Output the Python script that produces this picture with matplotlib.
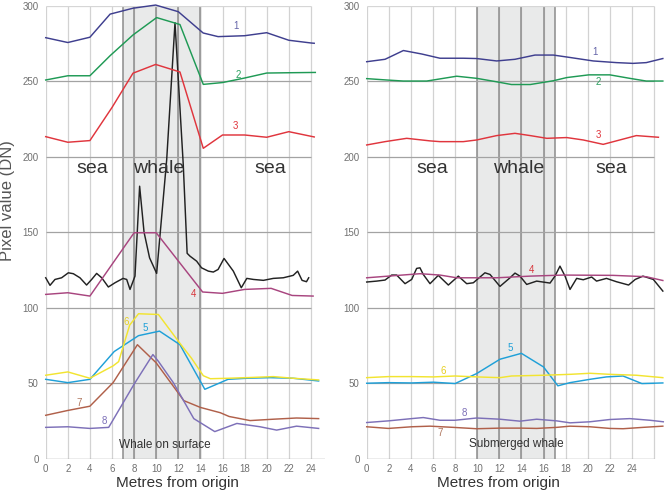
import matplotlib
matplotlib.use("Agg")
import matplotlib.pyplot as plt

plt.rcParams['font.family'] = ['Liberation Sans', 'DejaVu Sans']

# ---------------- data: left panel (whale on surface) ----------------
L1_x = [0, 2, 4, 5.83, 7.9, 9.95, 12.0, 14.25, 15.6, 18, 20, 22, 24, 24.3]
L1_y = [278.7, 275.5, 279, 294.3, 298.2, 300.3, 295.9, 281.8, 279.4, 280, 282, 277, 275.2, 275]
L2_x = [0, 2, 4, 5.83, 7.9, 10.04, 12.15, 14.26, 16, 18, 20, 22, 24.4]
L2_y = [250.7, 253.5, 253.5, 266.8, 280.5, 292, 287.4, 247.8, 249, 252, 255.3, 255.5, 255.7]
L3_x = [0, 2, 4, 6, 7.9, 9.95, 12.15, 14.26, 16, 18, 20, 22, 24.3]
L3_y = [213.2, 209.5, 210.6, 232.5, 255.2, 261, 256, 205.5, 214.3, 214.3, 212.8, 216.5, 213]
L4_x = [0, 2, 4, 8, 10, 14.2, 16, 18, 20.4, 22.3, 24.2]
L4_y = [108.8, 109.9, 107.7, 149.6, 149.6, 110.4, 109.5, 112.1, 112.8, 108.1, 107.7]
L5_x = [0, 2, 4, 6.2, 8.4, 10.3, 12.15, 14.4, 15.3, 16.5, 18.2, 20.3, 22.4, 24.7]
L5_y = [52.6, 50.4, 52.6, 71, 81.5, 84.5, 75.5, 46, 48.8, 52.6, 53.3, 53.7, 53.3, 51.5]
L6_x = [0, 2, 4, 6.1, 6.6, 7.6, 8.4, 10.2, 12.15, 13.2, 14.26, 14.9, 16.5, 18.5, 20.6, 22.4, 24.7]
L6_y = [55.3, 57.5, 53.3, 61.5, 64.3, 88.5, 96, 95.5, 76.4, 66.5, 55, 53, 53.3, 53.8, 54.4, 53.3, 52.2]
L7_x = [0, 2, 4, 6.1, 8.3, 10, 12.5, 14, 15.8, 16.6, 18.5, 20.6, 22.7, 24.7]
L7_y = [28.8, 32, 34.8, 50.4, 75.5, 63.5, 38.5, 34, 30.5, 28, 25.3, 26.2, 27, 26.6]
L8_x = [0, 2, 4, 5.7, 8.0, 9.7, 10.2, 11.55, 13.4, 15.3, 17.3, 19.4, 20.9, 22.7, 24.7]
L8_y = [20.8, 21.2, 20.1, 20.8, 49.4, 69, 64.5, 50.4, 26.6, 18, 23.4, 21.2, 19, 21.6, 20.1]
LB_x = [0, 0.39, 0.84, 1.44, 2.05, 2.5, 3.1, 3.7, 4.16, 4.61, 5.07, 5.67, 6.27, 7.0,
        7.33, 7.63, 8.08, 8.5, 8.9, 9.4, 10.04, 10.95, 11.7, 12.45, 12.8, 13.06, 13.66,
        14.1, 14.72, 15.17, 15.6, 16.14, 16.98, 17.7, 18.2, 18.8, 19.7, 20.6, 21.5,
        22.4, 22.8, 23.2, 23.6, 23.8]
LB_y = [119.8, 114.8, 118.7, 119.8, 123.1, 122.5, 119.8, 115, 118.7, 122.7, 119.8,
        113.7, 116.5, 119.4, 118.7, 112.1, 120.9, 180.4, 150, 133, 122.7, 198, 288.6,
        194.5, 136, 134.1, 130.8, 126.4, 124.2, 123.6, 125.3, 132.6, 124.2, 113.2,
        119.4, 118.7, 118.1, 119.4, 119.8, 121.4, 124.2, 118.1, 117.2, 119.8]

# ---------------- data: right panel (submerged whale) ----------------
R1_x = [0, 1.66, 3.32, 4.98, 6.63, 8.74, 9.95, 11.76, 13.42, 15.23, 16.89, 18.4, 20.5, 22.6, 24.1, 25.3, 26.8]
R1_y = [262.8, 264.4, 270.2, 267.9, 265.1, 265.1, 264.9, 263.3, 264.4, 267.2, 267.2, 265.6, 263.3, 262.2, 261.7, 262.2, 264.9]
R2_x = [0, 1.81, 3.32, 5.43, 8.14, 9.95, 11.76, 13.1, 14.8, 16.89, 18.1, 20.1, 22.0, 23.8, 25.3, 26.8]
R2_y = [251.6, 250.7, 250, 250, 253.2, 251.8, 249.5, 247.7, 247.7, 250.2, 252.3, 254.1, 254.1, 251.8, 250, 250]
R3_x = [0, 1.66, 3.62, 5.73, 6.63, 8.74, 9.95, 11.76, 13.42, 14.8, 16.3, 18.1, 19.6, 21.4, 22.9, 24.4, 26.4]
R3_y = [207.7, 209.9, 212.1, 210.4, 209.9, 209.9, 211, 213.9, 215.4, 213.9, 212.1, 212.6, 211, 208.1, 211, 213.9, 212.8]
R4_x = [0, 4.82, 6.63, 8.14, 11.76, 14.8, 17.8, 22.3, 25.3, 26.8]
R4_y = [119.8, 122.5, 121.6, 119.8, 119.8, 120.9, 121.6, 121.4, 120.5, 118]
R5_x = [0, 1.96, 4.07, 6.03, 8.0, 9.95, 12.06, 14.0, 16.0, 17.3, 18.4, 20.2, 21.7, 23.2, 24.9, 26.8]
R5_y = [50, 50.4, 50.2, 50.7, 49.8, 56.4, 65.9, 69.8, 60.8, 48.3, 50.4, 52.6, 54.2, 54.8, 49.8, 50.2]
R6_x = [0, 1.96, 4.07, 6.03, 8.0, 9.95, 12.06, 13.1, 16.0, 18.4, 20.2, 22.0, 24.4, 26.8]
R6_y = [53.7, 54.4, 54.4, 54.2, 54.8, 54.2, 53.7, 54.8, 55.3, 55.9, 56.6, 55.9, 55.3, 53.7]
R7_x = [0, 1.96, 4.07, 5.73, 7.84, 9.95, 12.06, 14.0, 15.38, 17.19, 18.4, 20.2, 22.0, 23.2, 25.0, 26.8]
R7_y = [21.2, 20.1, 21.2, 21.6, 20.8, 19.9, 20.3, 20.3, 20.1, 20.8, 21.6, 21.2, 20.1, 19.9, 20.8, 21.6]
R8_x = [0, 1.96, 4.07, 5.12, 6.63, 7.99, 9.95, 12.06, 13.87, 15.38, 17.19, 18.4, 20.2, 22.0, 23.8, 25.64, 26.84]
R8_y = [24, 25.1, 26.6, 27.3, 25.5, 25.5, 27, 26.2, 24.9, 26.2, 25.1, 23.8, 24.5, 26, 26.6, 25.5, 24.5]
RB_x = [0, 0.9, 1.66, 2.26, 2.71, 3.47, 4.07, 4.52, 4.82, 5.12, 5.73, 6.48, 7.39, 8.29,
        9.05, 9.65, 10.7, 11.16, 12.06, 12.97, 13.42, 13.87, 14.48, 15.38, 16.59, 17.04,
        17.49, 17.95, 18.4, 19.0, 19.6, 20.36, 20.8, 21.7, 22.6, 23.7, 24.3, 25.0, 25.94, 26.8]
RB_y = [117, 117.6, 118.3, 121.6, 121.6, 115.9, 118.7, 126, 126.4, 122, 115.9, 121.4,
        115, 120.9, 115.9, 116.5, 123.1, 122, 114.1, 119.8, 122.9, 120.9, 115.4, 117.6,
        116.3, 120.9, 127.5, 120.9, 112.1, 119.4, 118.5, 120.3, 117.6, 119.4, 117.2, 115,
        118.7, 120.9, 118.7, 111]

band_names = ['1', '2', '3', '4', '5', '6', '7', '8']
line_colors = ['#3f3f8f', '#1f9a55', '#e0353d', '#a8457f', '#1fa0d8', '#f2e430', '#b0604a', '#7d70b8']
label_colors = ['#6464a8', '#2ca060', '#e0353d', '#d8343a', '#1fa0d8', '#e6cf22', '#b07860', '#7d70b8']

L_label_pos = [(17.2, 286.2), (17.4, 254.3), (17.2, 220.3), (13.4, 109.3),
               (9.05, 86.3), (7.25, 90.5), (3.05, 37), (5.3, 24.7)]
R_label_pos = [(20.7, 269), (21.0, 249.3), (21.0, 214.3), (14.87, 124.7),
               (12.97, 73.6), (6.93, 58.1), (6.63, 17.4), (8.84, 30.3)]

yticks = [0, 50, 100, 150, 200, 250, 300]
xticks_vals = list(range(0, 25, 2))

PX = 11.05          # pixels per metre
PY = 1.511          # pixels per DN
fig = plt.figure(figsize=(6.72, 4.96), dpi=100)
W, H = 672, 496
y0 = 458.8
axL = fig.add_axes([45.7 / W, (H - y0) / H, 25.3 * PX / W, 300 * PY / H])
axR = fig.add_axes([366.7 / W, (H - y0) / H, 26.9 * PX / W, 300 * PY / H])


def frame(ax, xmax_grid, xmax_axis, shade, dark):
    ax.set_xlim(0, xmax_axis)
    ax.set_ylim(0, 300)
    for s in ax.spines.values():
        s.set_visible(False)
    ax.axvspan(shade[0], shade[1], ymin=0, ymax=1, color='#e9eaea', zorder=0, lw=0)
    ax.vlines(list(range(0, xmax_grid + 1, 2)), 0, 300, color='#d2d2d2', lw=0.9, zorder=1)
    ax.vlines(dark, 0, 300, color='#8c8c8c', lw=1.1, zorder=1)
    ax.hlines([50, 100, 150, 200, 250], 0, xmax_grid, color='#a3a3a3', lw=0.9, zorder=1)
    ax.hlines([300], 0, xmax_grid, color='#d6d6d6', lw=0.9, zorder=1)
    ax.hlines([0], 0, xmax_axis if xmax_grid < 25 else xmax_grid, color='#a0a0a0', lw=1.0, zorder=1)
    ax.set_yticks(yticks)
    ax.set_xticks(xticks_vals)
    ax.tick_params(length=0, labelsize=7, labelcolor='#707070')
    ax.tick_params(axis='y', pad=5)
    ax.tick_params(axis='x', pad=4)


frame(axL, 24, 25.3, (7, 14.15), [7, 8, 10, 12, 14])
frame(axR, 26, 26.9, (10, 17), [10, 12, 14, 16, 17])

L_series = [(L1_x, L1_y), (L2_x, L2_y), (L3_x, L3_y), (L4_x, L4_y),
            (L5_x, L5_y), (L6_x, L6_y), (L7_x, L7_y), (L8_x, L8_y)]
R_series = [(R1_x, R1_y), (R2_x, R2_y), (R3_x, R3_y), (R4_x, R4_y),
            (R5_x, R5_y), (R6_x, R6_y), (R7_x, R7_y), (R8_x, R8_y)]

for ax, series, lpos, bx, by in [(axL, L_series, L_label_pos, LB_x, LB_y),
                                 (axR, R_series, R_label_pos, RB_x, RB_y)]:
    ax.plot(bx, by, color='#222222', lw=1.05, zorder=3, clip_on=False)
    for (x, y), c in zip(series, line_colors):
        ax.plot(x, y, color=c, lw=1.05, zorder=4, clip_on=False)
    for name, (lx, ly), c in zip(band_names, lpos, label_colors):
        ax.text(lx, ly, name, color=c, fontsize=7, ha='center', va='center', zorder=5)

# region words
for ax, pos in [(axL, [4.19, 10.24, 20.34]), (axR, [5.98, 13.74, 22.1])]:
    for word, x in zip(['sea', 'whale', 'sea'], pos):
        ax.text(x, 189.3, word, fontsize=14, color='#333333', ha='center', va='baseline', zorder=6)

axL.text(10.77, 7.1, 'Whale on surface', fontsize=8.5, color='#333333', ha='center', va='baseline', zorder=6)
axR.text(13.54, 7.5, 'Submerged whale', fontsize=8.5, color='#333333', ha='center', va='baseline', zorder=6)

fig.text(8 / W, 1 - 201 / H, 'Pixel value (DN)', rotation=90, fontsize=12,
         color='#555555', ha='center', va='center')
fig.text(177 / W, 1 - 483 / H, 'Metres from origin', fontsize=11,
         color='#333333', ha='center', va='center')
fig.text(498 / W, 1 - 483 / H, 'Metres from origin', fontsize=11,
         color='#333333', ha='center', va='center')

fig.savefig('out.png', dpi=100)
